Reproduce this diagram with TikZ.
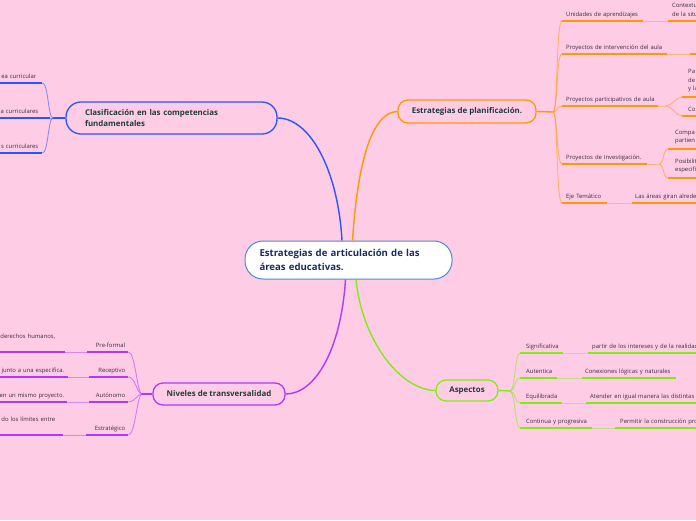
\documentclass[tikz,border=0pt]{standalone}
\usepackage{fontspec}
\setmainfont{Open Sans}
\definecolor{bg}{RGB}{255,204,230}
\definecolor{orng}{RGB}{255,153,0}
\definecolor{blu}{RGB}{40,85,255}
\definecolor{prp}{RGB}{175,55,255}
\definecolor{grn}{RGB}{130,235,20}
\definecolor{ceborder}{RGB}{70,140,215}
\definecolor{boxtxt}{RGB}{30,60,60}
\definecolor{cetxt}{RGB}{25,45,90}
\definecolor{lbltxt}{RGB}{60,45,60}
\newcommand\mmnode[8]{%
  \pgfmathsetmacro\mmw{#5-#4-2*#7}%
  \node[lbl,#3,anchor=south west,inner xsep=#7pt,text width=\mmw pt] (#1) at (#4,#6) {#8};%
  \draw[uline,draw=#2] (#1.south west) -- (#1.south east);}
\begin{document}
\begin{tikzpicture}[x=1pt,y=-1pt,
  lbl/.style={font=\fontsize{5.9}{8.5}\selectfont,text=lbltxt,inner ysep=4.5pt,align=left},
  sl/.style={text height=4.3pt,text depth=0pt},
  uline/.style={line width=1.8pt},
  brc/.style={line width=0.9pt,draw opacity=0.55},
  conn/.style={line width=0.8pt,draw opacity=0.45},
  mainc/.style={line width=1.4pt},
  topbox/.style={draw,line width=1.3pt,fill=bg,font=\bfseries\fontsize{7.9}{11.5}\selectfont,text=boxtxt,inner sep=0pt}]
\useasboundingbox[fill=bg] (0,0) rectangle (696,520);

% central node
\node[draw=ceborder,line width=1pt,fill=white,rounded corners=18pt,minimum width=207pt,minimum height=38pt,
  text width=178pt,align=left,inner sep=0pt,font=\bfseries\fontsize{9.6}{13.5}\selectfont,text=cetxt] (ce) at (348.5,260)
  {Estrategias de articulación de las\\áreas educativas.};

% main topic boxes
\node[topbox,draw=blu,rounded corners=15pt,minimum width=211pt,minimum height=32pt,text width=173pt,align=left] (cf) at (171.5,118)
  {Clasificación en las competencias\\fundamentales};
\node[topbox,draw=orng,rounded corners=10pt,minimum width=138pt,minimum height=23pt] (ep) at (467,111.5)
  {Estrategias de planificación.};
\node[topbox,draw=prp,rounded corners=10pt,minimum width=132pt,minimum height=22pt] (nt) at (219,394)
  {Niveles de transversalidad};
\node[topbox,draw=grn,rounded corners=10pt,minimum width=62pt,minimum height=21pt] (as) at (467,390.5)
  {Aspectos};

% main connectors
\draw[mainc,blu] ([xshift=-6.5pt]ce.north) .. controls (338,170) and (310,118) .. (cf.east);
\draw[mainc,orng] ([xshift=4pt]ce.north) .. controls (357,170) and (370,112) .. (ep.west);
\draw[mainc,prp] ([xshift=-3pt]ce.south) .. controls (341,350) and (315,394) .. (nt.east);
\draw[mainc,grn] ([xshift=7.5pt]ce.south) .. controls (362,340) and (400,390) .. (as.west);

% ---------- orange branch ----------
\mmnode{o1}{orng}{sl}{562}{643}{21}{4}{\mbox{Unidades de aprendizajes}}
\mmnode{o2}{orng}{sl}{562}{667}{54}{4}{\mbox{Proyectos de intervención del aula}}
\mmnode{o3}{orng}{sl}{562}{658}{106}{4}{\mbox{Proyectos participativos de aula}}
\mmnode{o4}{orng}{sl}{562}{647}{164}{4}{\mbox{Proyectos de Investigación.}}
\mmnode{o5}{orng}{sl}{562}{607}{203}{4}{\mbox{Eje Temático}}
\mmnode{oc1}{orng}{}{668}{760}{21}{4}{Contextu\\de la situ}
\mmnode{oc2}{orng}{sl}{690}{760}{54}{4}{}
\mmnode{oc3a}{orng}{}{682}{760}{97}{6}{Pa\\de\\y la}
\mmnode{oc3b}{orng}{sl}{682}{760}{116}{6}{Co}
\mmnode{oc4a}{orng}{}{668}{760}{149}{7}{Compa\\partien}
\mmnode{oc4b}{orng}{}{668}{760}{178}{7}{Posibilita\\especifi}
\mmnode{oc5}{orng}{sl}{632}{760}{203}{3}{\mbox{Las áreas giran alrede}}
\coordinate (ob) at (553,112);
\draw[mainc,orng] (ep.east) -- (ob);
\foreach \n in {o1,o2,o3,o4,o5}
  \draw[brc,orng] (ob) .. controls +(5,0) and +(-6,0) .. (\n.south west);
\draw[conn,orng] (o1.south east) -- (oc1.south west);
\draw[conn,orng] (o2.south east) -- (oc2.south west);
\coordinate (o3b) at (666,106);
\draw[conn,orng] (o3.south east) -- (o3b);
\draw[brc,orng] (o3b) .. controls +(6,0) and +(-6,0) .. (oc3a.south west);
\draw[brc,orng] (o3b) .. controls +(6,0) and +(-6,0) .. (oc3b.south west);
\coordinate (o4b) at (659,164);
\draw[conn,orng] (o4.south east) -- (o4b);
\draw[brc,orng] (o4b) .. controls +(5,0) and +(-5,0) .. (oc4a.south west);
\draw[brc,orng] (o4b) .. controls +(5,0) and +(-5,0) .. (oc4b.south west);
\draw[conn,orng] (o5.south east) -- (oc5.south west);

% ---------- blue branch ----------
\mmnode{b1}{blu}{sl,align=right}{-80}{42}{83}{6}{\mbox{ea curricular}}
\mmnode{b2}{blu}{sl,align=right}{-80}{50}{118}{12}{\mbox{a curriculares}}
\mmnode{b3}{blu}{sl,align=right}{-80}{42}{153}{4}{\mbox{s curriculares}}
\coordinate (bb) at (53,118);
\draw[mainc,blu] (cf.west) -- (bb);
\foreach \n in {b1,b2,b3}
  \draw[brc,blu] (bb) .. controls +(-5,0) and +(6,0) .. (\n.south east);

% ---------- purple branch ----------
\mmnode{p1}{prp}{sl,align=right}{87}{128}{352}{3}{\mbox{Pre-formal}}
\mmnode{p2}{prp}{sl,align=right}{89}{128}{377}{3}{\mbox{Receptivo}}
\mmnode{p3}{prp}{sl,align=right}{89}{128}{402}{3}{\mbox{Autónomo}}
\mmnode{p4}{prp}{sl,align=right}{86}{128}{435}{3}{\mbox{Estratégico}}
\mmnode{pc1}{prp}{align=right}{-80}{65}{352}{10}{derechos humanos,\\\mbox{}}
\mmnode{pc2}{prp}{sl,align=right}{-80}{68}{377}{4}{\mbox{junto a una especifica.}}
\mmnode{pc3}{prp}{sl,align=right}{-80}{67}{402}{3}{\mbox{en un mismo proyecto.}}
\mmnode{pc4}{prp}{align=right}{-80}{63}{435}{8}{do los límites entre\\\mbox{}}
\coordinate (pb) at (142,394);
\draw[mainc,prp] (nt.west) -- (pb);
\foreach \n in {p1,p2,p3,p4}
  \draw[brc,prp] (pb) .. controls +(-5,0) and +(7,0) .. (\n.south east);
\draw[conn,prp] (pc1.south east) -- (p1.south west);
\draw[conn,prp] (pc2.south east) -- (p2.south west);
\draw[conn,prp] (pc3.south east) -- (p3.south west);
\draw[conn,prp] (pc4.south east) -- (p4.south west);

% ---------- green branch ----------
\mmnode{g1}{grn}{sl}{520}{563}{353}{6}{\mbox{Significativa}}
\mmnode{g2}{grn}{sl}{520}{557}{378}{6}{\mbox{Autentica}}
\mmnode{g3}{grn}{sl}{520}{562}{403}{6}{\mbox{Equilibrada}}
\mmnode{g4}{grn}{sl}{520}{592}{428}{6}{\mbox{Continua y progresiva}}
\mmnode{gc1}{grn}{sl}{588}{760}{353}{4}{\mbox{partir de los intereses y de la realidad}}
\mmnode{gc2}{grn}{sl}{582}{676}{378}{3}{\mbox{Conexiones lógicas y naturales}}
\mmnode{gc3}{grn}{sl}{586}{760}{403}{4}{\mbox{Atender en igual manera las distintas}}
\mmnode{gc4}{grn}{sl}{615}{760}{428}{5}{\mbox{Permitir la construcción pro}}
\coordinate (gb) at (510,391);
\draw[mainc,grn] (as.east) -- (gb);
\foreach \n in {g1,g2,g3,g4}
  \draw[brc,grn] (gb) .. controls +(5,0) and +(-5,0) .. (\n.south west);
\draw[conn,grn] (g1.south east) -- (gc1.south west);
\draw[conn,grn] (g2.south east) -- (gc2.south west);
\draw[conn,grn] (g3.south east) -- (gc3.south west);
\draw[conn,grn] (g4.south east) -- (gc4.south west);
\end{tikzpicture}
\end{document}
